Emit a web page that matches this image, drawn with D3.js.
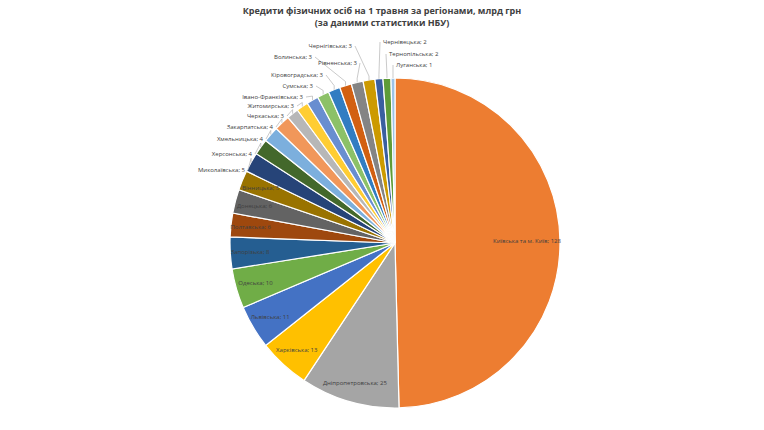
<!DOCTYPE html>
<html><head><meta charset="utf-8">
<script src="https://cdn.jsdelivr.net/npm/d3@7"></script>
<style>body{margin:0;background:#fff;font-family:"Open Sans",sans-serif}</style>
</head><body><div class="chart"></div>
<script>
'use strict';

var regions = ["Київська та м. Київ","Дніпропетровська","Харківська","Львівська","Одеська","Запорізька",
  "Полтавська","Донецька","Вінницька","Миколаївська","Херсонська","Хмельницька","Закарпатська",
  "Черкаська","Житомирська","Івано-Франківська","Сумська","Кіровоградська","Волинська","Рівненська",
  "Чернігівська","Чернівецька","Тернопільська","Луганська"];
var credits = [128,25,13,11,10,8,6,6,5,5,4,4,4,3,3,3,3,3,3,3,3,2,2,1];
var colors = ["#ed7d31","#a5a5a5","#ffc000","#4472c4","#70ad47","#255e91","#9e480e","#636363",
  "#997300","#264478","#43682b","#7cafdd","#f1975a","#b7b7b7","#ffcd33","#698ed0","#8cc168",
  "#327dc2","#d26012","#848484","#cc9a00","#3a5fa0","#5e9c38","#9dc3e6"];

var width = 764, height = 430, r = 165, cx = 395, cy = 243;

// label anchor offsets (relative to pie centre) for the small outside slices
var outLayout = [[-150,-71,"end"],[-143,-87,"end"],[-132,-102,"end"],[-122,-114,"end"],[-111,-125,"end"],
  [-101,-135,"end"],[-92,-144,"end"],[-82,-155,"end"],[-72,-166,"end"],[-83,-184,"end"],
  [-38,-178,"end"],[-43,-195,"end"],[-12,-199,"start"],[-6,-187,"start"],[1,-176,"start"]];

var svg = d3.select(".chart").append("svg").attr("width", width).attr("height", height);

svg.append("text").attr("x", 382).attr("y", 14).attr("text-anchor", "middle")
   .attr("font-size", 9).attr("font-weight", "bold").attr("fill", "#404040")
   .text("Кредити фізичних осіб на 1 травня за регіонами, млрд грн");
svg.append("text").attr("x", 382).attr("y", 26).attr("text-anchor", "middle")
   .attr("font-size", 9).attr("font-weight", "bold").attr("fill", "#404040")
   .text("(за даними статистики НБУ)");

var pie = d3.pie().sort(null).value(function(d){ return d; });
var arcs = pie(credits);
var arc = d3.arc().innerRadius(0).outerRadius(r);

var g = svg.append("g").attr("transform", "translate(" + cx + "," + cy + ")");

g.selectAll("path.slice").data(arcs).enter().append("path")
  .attr("class", "slice")
  .attr("d", arc)
  .attr("fill", function(d, i){ return colors[i]; })
  .attr("stroke", "#fff").attr("stroke-width", 1.2);

function mid(d){ return (d.startAngle + d.endAngle) / 2; }

// inside labels for the big slices
var inside = arcs.filter(function(d, i){ return i <= 8; });
g.selectAll("text.in").data(inside).enter().append("text")
  .attr("class", "in")
  .attr("x", function(d, i){ return Math.sin(mid(d)) * r * (i === 0 ? 0.8 : 0.88); })
  .attr("y", function(d, i){ return -Math.cos(mid(d)) * r * (i === 0 ? 0.8 : 0.88) + 2; })
  .attr("text-anchor", "middle").attr("font-size", 6).attr("fill", "#404040")
  .text(function(d){ return regions[d.index] + "; " + d.value; });

// outside labels with leader lines
var outside = arcs.filter(function(d, i){ return i > 8; }).map(function(d, k){
  var L = outLayout[k];
  return {d: d, a: mid(d), x: L[0], y: L[1], anchor: L[2]};
});

var lab = g.selectAll("g.out").data(outside).enter().append("g").attr("class", "out");
lab.append("polyline")
  .attr("points", function(o){
    var ex = Math.sin(o.a) * r, ey = -Math.cos(o.a) * r;
    var lx = o.x + (o.anchor === "end" ? 3 : -3), ly = o.y - 2;
    return [lx, ly, ex, Math.min(ey - 4, ly + 4 < ey ? ey - 4 : ey), ex, ey].join(",");
  })
  .attr("fill", "none").attr("stroke", "#a6a6a6").attr("stroke-width", 0.6);
lab.append("text")
  .attr("x", function(o){ return o.x; })
  .attr("y", function(o){ return o.y; })
  .attr("text-anchor", function(o){ return o.anchor; })
  .attr("font-size", 6).attr("fill", "#404040")
  .text(function(o){ return regions[o.d.index] + "; " + o.d.value; });
</script></body></html>
